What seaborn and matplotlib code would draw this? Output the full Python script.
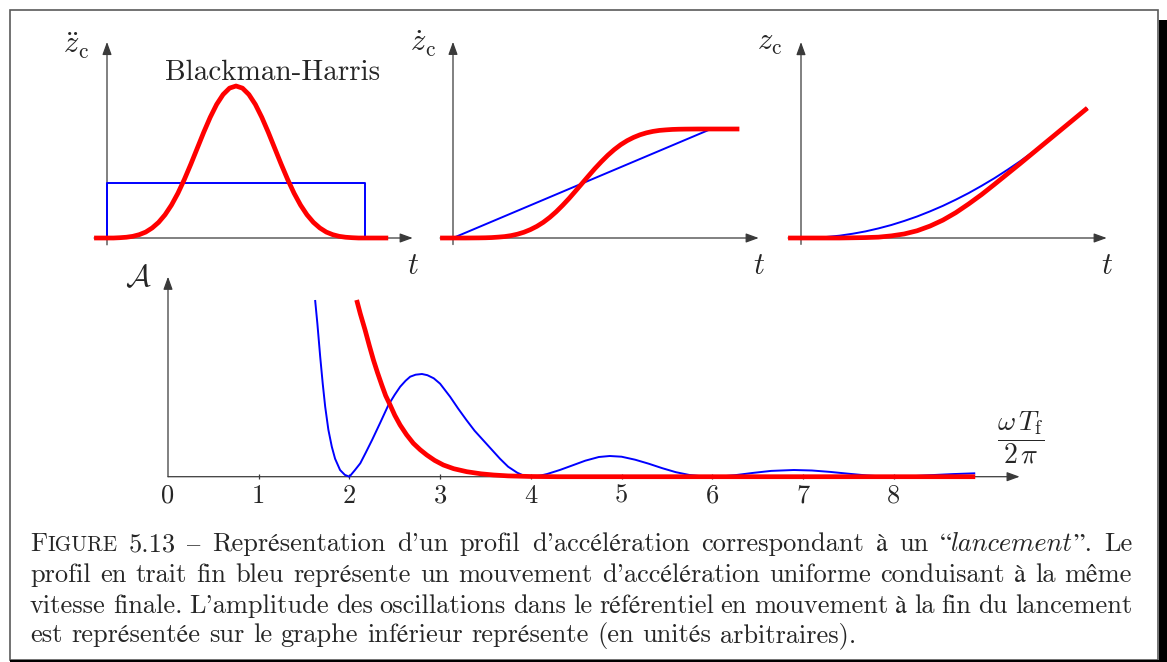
import matplotlib
matplotlib.use('Agg')
import matplotlib.pyplot as plt
from matplotlib.patches import Rectangle
from matplotlib.offsetbox import TextArea, HPacker, AnnotationBbox
import seaborn as sns

# ---- valeurs ----
# haut gauche : accélération (t en unités de durée du lancement)
acc_t = [-0.05, 0.0, 0.025, 0.05, 0.075, 0.1, 0.125, 0.15, 0.175, 0.2, 0.225, 0.25, 0.275,
         0.3, 0.325, 0.35, 0.375, 0.4, 0.425, 0.45, 0.475, 0.5, 0.525, 0.55, 0.575, 0.6,
         0.625, 0.65, 0.675, 0.7, 0.725, 0.75, 0.775, 0.8, 0.825, 0.85, 0.875, 0.9, 0.925,
         0.95, 0.975, 1.0, 1.09]
acc_bh = [0.0, 0.0, 0.0, 0.002, 0.005, 0.011, 0.022, 0.039, 0.066, 0.103, 0.153, 0.217, 0.295,
          0.386, 0.486, 0.591, 0.696, 0.794, 0.879, 0.944, 0.986, 1.0, 0.986, 0.944, 0.879,
          0.794, 0.696, 0.591, 0.486, 0.386, 0.295, 0.217, 0.153, 0.103, 0.066, 0.039, 0.022,
          0.011, 0.005, 0.002, 0.0, 0.0, 0.0]
acc_uni_t = [0.0, 0.0, 1.0, 1.0]
acc_uni = [0.0, 0.36, 0.36, 0.0]

# haut milieu : vitesse
vel_t = [-0.05, 0.0, 0.05, 0.1, 0.125, 0.15, 0.175, 0.2, 0.225, 0.25, 0.275, 0.3, 0.325, 0.35,
         0.375, 0.4, 0.425, 0.45, 0.475, 0.5, 0.525, 0.55, 0.575, 0.6, 0.625, 0.65, 0.675,
         0.7, 0.725, 0.75, 0.775, 0.8, 0.825, 0.85, 0.875, 0.9, 0.95, 1.0, 1.11]
vel_bh = [0.0, 0.0, 0.0, 0.001, 0.002, 0.004, 0.008, 0.013, 0.022, 0.035, 0.053, 0.077, 0.107,
          0.144, 0.189, 0.241, 0.300, 0.363, 0.431, 0.5, 0.569, 0.637, 0.700, 0.759, 0.811,
          0.856, 0.893, 0.923, 0.947, 0.965, 0.978, 0.987, 0.992, 0.996, 0.998, 0.999, 1.0,
          1.0, 1.0]
vel_uni_t = [0.0, 1.0]
vel_uni = [0.0, 1.0]

# haut droite : position
pos_t = [-0.05, 0.0, 0.05, 0.1, 0.15, 0.2, 0.25, 0.3, 0.35, 0.4, 0.45, 0.5, 0.55, 0.6, 0.65,
         0.7, 0.75, 0.8, 0.85, 0.9, 0.95, 1.0, 1.11]
pos_bh = [0.0, 0.0, 0.0, 0.0, 0.0, 0.001, 0.002, 0.004, 0.010, 0.019, 0.034, 0.056, 0.084,
          0.119, 0.160, 0.204, 0.252, 0.301, 0.350, 0.400, 0.450, 0.5, 0.61]
pos_uni_t = [0.0, 0.05, 0.1, 0.15, 0.2, 0.25, 0.3, 0.35, 0.4, 0.45, 0.5, 0.55, 0.6, 0.65, 0.7,
             0.75, 0.8, 0.85, 0.9, 0.95, 1.0, 1.11]
pos_uni = [0.0, 0.001, 0.005, 0.011, 0.02, 0.031, 0.045, 0.061, 0.08, 0.101, 0.125, 0.151,
           0.18, 0.211, 0.245, 0.281, 0.32, 0.361, 0.405, 0.451, 0.5, 0.61]

# bas : amplitude des oscillations en fonction de omega*Tf/(2 pi)
freq_uni = [1.622, 1.647, 1.678, 1.706, 1.733, 1.768, 1.806, 1.842, 1.897, 1.95, 2.0, 2.06,
            2.12, 2.18, 2.25, 2.34, 2.43, 2.50, 2.56, 2.62, 2.67, 2.73, 2.80, 2.86, 2.93,
            3.0, 3.11, 3.2, 3.29, 3.38, 3.48, 3.57, 3.66, 3.75, 3.85, 3.92, 4.0, 4.1, 4.18,
            4.32, 4.45, 4.6, 4.75, 4.87, 5.0, 5.15, 5.3, 5.45, 5.6, 5.75, 5.9, 6.0, 6.1,
            6.25, 6.45, 6.65, 6.9, 7.1, 7.3, 7.5, 7.7, 7.85, 8.0, 8.2, 8.4, 8.65, 8.9]
amp_uni = [1.767, 1.53, 1.20, 0.93, 0.70, 0.47, 0.30, 0.18, 0.067, 0.018, 0.0, 0.065,
           0.134, 0.24, 0.367, 0.54, 0.717, 0.82, 0.90, 0.96, 1.00, 1.02, 1.027, 1.015, 0.984,
           0.93, 0.80, 0.68, 0.567, 0.46, 0.36, 0.27, 0.18, 0.10, 0.04, 0.012, 0.0, 0.01,
           0.027, 0.067, 0.11, 0.16, 0.197, 0.207, 0.2, 0.17, 0.13, 0.085, 0.045, 0.017,
           0.003, 0.0, 0.003, 0.015, 0.038, 0.058, 0.067, 0.062, 0.048, 0.03, 0.013, 0.004,
           0.0, 0.005, 0.015, 0.026, 0.034]
freq_bh = [2.08, 2.12, 2.173, 2.22, 2.265, 2.31, 2.357, 2.40, 2.449, 2.50, 2.559, 2.63, 2.705,
           2.78, 2.853, 2.94, 3.036, 3.15, 3.294, 3.45, 3.59, 3.75, 4.0, 4.3, 8.9]
amp_bh = [1.767, 1.63, 1.467, 1.31, 1.167, 1.04, 0.917, 0.81, 0.717, 0.615, 0.517, 0.42,
          0.334, 0.27, 0.217, 0.163, 0.117, 0.08, 0.05, 0.029, 0.017, 0.008, 0.002, 0.0, 0.0]
freq_ticks = [0, 1, 2, 3, 4, 5, 6, 7, 8]

caption = [
    ['FIGURE', '5.13', '–', 'Représentation', "d'un", 'profil', "d'accélération",
     'correspondant', 'à', 'un', 'LANCEMENT', 'Le'],
    "profil en trait fin bleu représente un mouvement d'accélération uniforme conduisant à la même".split(),
    "vitesse finale. L'amplitude des oscillations dans le référentiel en mouvement à la fin du lancement".split(),
    "est représentée sur le graphe inférieur représente (en unités arbitraires).".split(),
]

W, H = 1167, 662
RED, BLUE, AXC = '#ff0000', '#0000ff', '#3a3a3a'
CAP = 19

sns.set_style('white')
plt.rcParams['mathtext.fontset'] = 'cm'
TXT = ['cmr10', 'STIXGeneral']
plt.rcParams['font.family'] = TXT

fig = plt.figure(figsize=(W / 100, H / 100), dpi=100)


def px_axes(box, origin, scale):
    # box in pixels (top-left origin); data origin at pixel `origin`, `scale` px per unit
    x0, y0, x1, y1 = box
    ox, oy = origin
    sx, sy = scale
    ax = fig.add_axes([x0 / W, 1 - y1 / H, (x1 - x0) / W, (y1 - y0) / H])
    ax.set_xlim((x0 - ox) / sx, (x1 - ox) / sx)
    ax.set_ylim((oy - y1) / sy, (oy - y0) / sy)
    ax.axis('off')
    return ax


def arrow(ax, start, end):
    ax.annotate('', xy=end, xytext=start, zorder=1, annotation_clip=False,
                arrowprops=dict(arrowstyle='-|>,head_length=0.55,head_width=0.2',
                                color=AXC, lw=0.9, shrinkA=0, shrinkB=0, mutation_scale=14))


def ptext(x, y, s, size=22, **kw):
    fig.text(x / W, 1 - y / H, s, size=size, ha='center', va='center', **kw)


def curve(ax, x, y, color, lw, z):
    sns.lineplot(x=x, y=y, ax=ax, color=color, lw=lw, sort=False, estimator=None,
                 zorder=z, solid_capstyle='butt', solid_joinstyle='round')


# --- accélération ---
ax1 = px_axes((85, 35, 425, 255), (107, 238), (258, 152))
arrow(ax1, (-0.05, 0), (1.185, 0))
arrow(ax1, (0, -0.045), (0, 1.29))
curve(ax1, acc_uni_t, acc_uni, BLUE, 1.4, 2)
curve(ax1, acc_t, acc_bh, RED, 3.4, 3)
ptext(76, 46, r'$\ddot{z}_{\mathrm{c}}$')
ptext(413, 266, r'$t$')
ptext(273, 73, 'Blackman-Harris', size=21, family=TXT)

# --- vitesse ---
ax2 = px_axes((430, 35, 770, 255), (453, 238), (258, 109))
arrow(ax2, (-0.05, 0), (1.185, 0))
arrow(ax2, (0, -0.06), (0, 1.8))
curve(ax2, vel_uni_t, vel_uni, BLUE, 1.4, 2)
curve(ax2, vel_t, vel_bh, RED, 3.4, 3)
ptext(423, 44, r'$\dot{z}_{\mathrm{c}}$')
ptext(759, 266, r'$t$')

# --- position ---
ax3 = px_axes((778, 35, 1118, 255), (801, 238), (258, 213))
arrow(ax3, (-0.05, 0), (1.185, 0))
arrow(ax3, (0, -0.03), (0, 0.92))
curve(ax3, pos_uni_t, pos_uni, BLUE, 1.4, 2)
curve(ax3, pos_t, pos_bh, RED, 3.4, 3)
ptext(770, 43, r'$z_{\mathrm{c}}$')
ptext(1107, 266, r'$t$')

# --- amplitude ---
ax4 = px_axes((150, 265, 1030, 485), (168, 476.7), (90.7, 100))
arrow(ax4, (0, 0), (9.39, 0))
arrow(ax4, (0, 0), (0, 2.0))
ax4.vlines(freq_ticks[1:], -0.025, 0.025, color=AXC, lw=0.9)
curve(ax4, freq_uni, amp_uni, BLUE, 1.4, 2)
curve(ax4, freq_bh, amp_bh, RED, 3.4, 3)
for f in freq_ticks:
    ptext(168 + 90.7 * f, 496, str(f), size=CAP, family=TXT)
ptext(138, 278, r'$\mathcal{A}$')
ptext(1021, 438, r'$\dfrac{\omega\,T_{\mathrm{f}}}{2\,\pi}$', size=20)

# --- cadre ---
fig.add_artist(Rectangle((10 / W, 1 - 660 / H), 1148 / W, 650 / H, transform=fig.transFigure,
                         fill=False, ec='#5a5a5a', lw=1.2))
fig.add_artist(Rectangle((1159 / W, 0), 8 / W, (H - 20) / H, transform=fig.transFigure,
                         fc='black', ec='none'))
fig.add_artist(Rectangle((10 / W, 0), 1157 / W, 2.5 / H, transform=fig.transFigure,
                         fc='black', ec='none'))

# --- légende justifiée ---
rm = dict(family=TXT, size=CAP)
sc = dict(family=TXT, size=CAP * 0.8)
it = dict(family=['cmmi10', 'STIXGeneral'], size=CAP)


def piece(*parts):
    return HPacker(children=[TextArea(s, textprops=p) for s, p in parts],
                   align='baseline', pad=0, sep=0)


def word(w):
    if w == 'FIGURE':
        return piece(('F', rm), ('IGURE', sc))
    if w == 'LANCEMENT':
        return piece(('“', rm), ('lancement', it), ('”.', rm))
    return TextArea(w, textprops=rm)


left, right = 30, 1132
for i, words in enumerate(caption):
    kids = [word(w) for w in words]
    if i < len(caption) - 1:
        box = HPacker(children=kids, align='baseline', pad=0, mode='expand', width=right - left)
    else:
        box = HPacker(children=kids, align='baseline', pad=0, sep=CAP * 0.33)
    ab = AnnotationBbox(box, (left, H - (556 + 31 * i)), xycoords='figure pixels',
                        box_alignment=(0, 0), frameon=False, pad=0)
    fig.add_artist(ab)

fig.savefig('out.png', dpi=100)
